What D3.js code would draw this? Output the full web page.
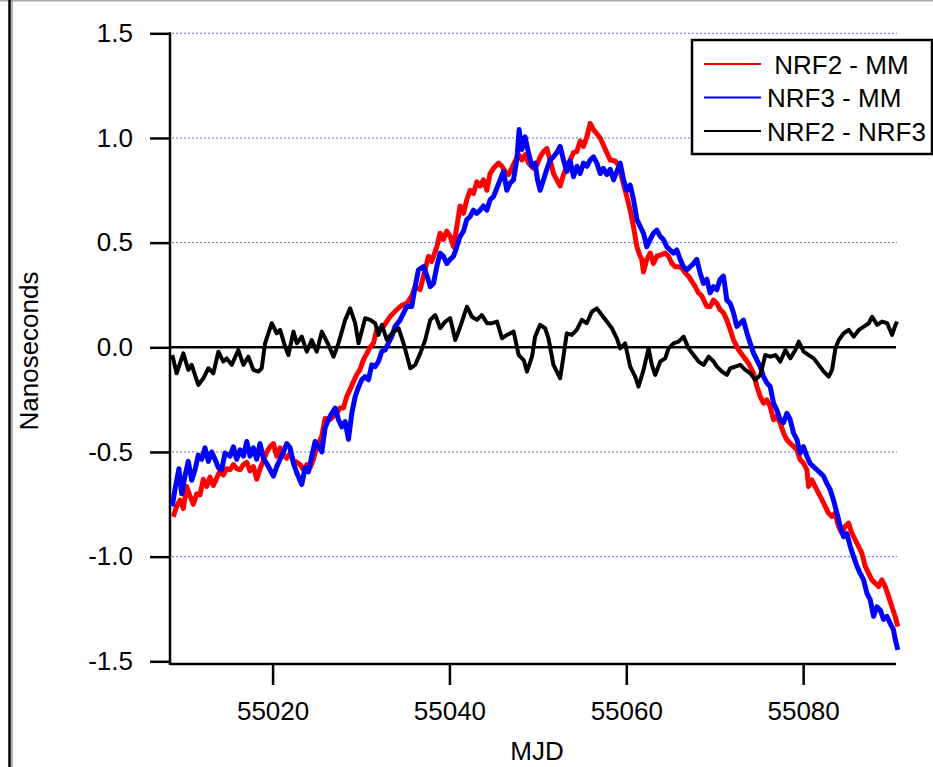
<!DOCTYPE html>
<html>
<head>
<meta charset="utf-8">
<script src="https://cdn.jsdelivr.net/npm/d3@7"></script>
<style>
  body { margin: 0; background: #fff; }
  text { font-family: "Liberation Sans", Arial, sans-serif; }
</style>
</head>
<body>
<div id="chart"></div>
<script>
// data: [MJD - 55000, nanoseconds]
const mjdBase = 55000;

const nrf2MM = [
  [8.77,-0.81],[9.15,-0.76],[9.53,-0.73],[9.91,-0.77],[10.28,-0.665],[10.66,-0.71],[11.04,-0.75],[11.42,-0.70],
  [11.79,-0.705],[12.17,-0.63],[12.55,-0.665],[12.92,-0.62],[13.30,-0.66],[13.68,-0.625],[14.06,-0.59],[14.43,-0.61],
  [14.81,-0.58],[15.19,-0.585],[15.57,-0.56],[15.94,-0.58],[16.32,-0.585],[16.70,-0.56],[17.08,-0.55],[17.45,-0.59],
  [17.83,-0.57],[18.21,-0.63],[18.58,-0.58],[18.96,-0.54],[19.34,-0.50],[19.72,-0.475],[20.09,-0.46],[20.47,-0.52],
  [20.85,-0.48],[21.23,-0.515],[21.60,-0.53],[21.98,-0.505],[22.36,-0.54],[22.74,-0.55],[23.11,-0.56],[23.49,-0.585],
  [23.87,-0.56],[24.25,-0.575],[24.62,-0.535],[25.00,-0.475],[25.18,-0.46],[25.56,-0.425],[25.94,-0.34],[26.50,-0.345],
  [26.88,-0.33],[27.26,-0.315],[27.63,-0.29],[28.01,-0.29],[28.39,-0.235],[28.77,-0.20],[29.14,-0.165],[29.52,-0.13],
  [29.90,-0.105],[30.27,-0.06],[30.65,-0.03],[31.03,0.0],[31.41,0.02],[31.78,0.084],[32.54,0.10],[33.29,0.147],
  [34.05,0.18],[34.61,0.20],[35.18,0.21],[35.74,0.245],[36.12,0.29],[36.68,0.275],[37.25,0.37],[37.63,0.435],
  [38.00,0.41],[38.57,0.48],[38.95,0.545],[39.32,0.515],[39.70,0.555],[40.08,0.53],[40.46,0.48],[40.83,0.575],
  [41.21,0.675],[41.59,0.64],[41.96,0.705],[42.34,0.75],[42.72,0.735],[43.09,0.79],[43.47,0.77],[43.85,0.80],
  [44.23,0.75],[44.60,0.83],[44.98,0.855],[45.55,0.88],[45.92,0.865],[46.30,0.84],[46.68,0.825],[47.05,0.855],
  [47.43,0.89],[47.81,0.92],[48.19,0.895],[48.56,0.92],[48.94,0.88],[49.51,0.855],[49.88,0.87],[50.26,0.91],
  [50.64,0.935],[51.01,0.95],[51.39,0.895],[51.77,0.83],[52.14,0.80],[52.52,0.77],[52.90,0.825],[53.28,0.865],
  [53.65,0.895],[54.03,0.93],[54.41,0.935],[54.78,0.985],[55.16,0.96],[55.54,1.005],[55.92,1.07],[56.29,1.04],
  [56.67,1.02],[57.05,1.0],[57.42,0.965],[57.80,0.93],[58.18,0.895],[58.74,0.89],[59.12,0.87],[59.50,0.81],
  [60.06,0.72],[60.44,0.655],[60.82,0.575],[61.20,0.48],[61.57,0.435],[61.75,0.42],[61.94,0.36],[62.32,0.42],
  [62.70,0.45],[63.07,0.40],[63.45,0.435],[63.83,0.44],[64.39,0.45],[64.77,0.435],[65.15,0.40],[65.52,0.385],
  [65.90,0.385],[66.28,0.38],[66.66,0.355],[67.03,0.34],[67.41,0.315],[67.79,0.29],[68.16,0.26],[68.54,0.245],
  [69.11,0.195],[69.48,0.195],[69.86,0.225],[70.24,0.21],[70.61,0.18],[70.99,0.165],[71.37,0.13],[71.75,0.085],
  [72.12,0.036],[72.69,-0.012],[73.25,-0.044],[73.82,-0.076],[74.39,-0.124],[74.76,-0.187],[75.14,-0.235],[75.52,-0.267],
  [75.89,-0.251],[76.27,-0.283],[76.65,-0.346],[77.02,-0.33],[77.40,-0.362],[77.78,-0.41],[78.16,-0.442],[78.53,-0.458],
  [78.91,-0.474],[79.29,-0.49],[79.66,-0.537],[80.04,-0.553],[80.42,-0.585],[80.61,-0.665],[80.98,-0.633],[81.36,-0.665],
  [81.74,-0.697],[82.12,-0.728],[82.49,-0.76],[82.87,-0.792],[83.25,-0.808],[83.62,-0.792],[84.00,-0.856],[84.38,-0.888],
  [84.75,-0.856],[85.13,-0.84],[85.51,-0.888],[85.89,-0.92],[86.26,-0.951],[86.64,-0.983],[87.02,-1.047],[87.39,-1.079],
  [87.77,-1.111],[88.15,-1.127],[88.53,-1.143],[88.90,-1.111],[89.28,-1.143],[89.66,-1.19],[90.03,-1.238],[90.41,-1.286],
  [90.71,-1.334]
];

const nrf3MM = [
  [8.66,-0.76],[8.96,-0.68],[9.41,-0.58],[9.72,-0.70],[10.09,-0.615],[10.47,-0.545],[10.85,-0.635],[11.23,-0.585],
  [11.60,-0.515],[11.98,-0.535],[12.36,-0.48],[12.74,-0.545],[13.11,-0.50],[13.49,-0.535],[13.87,-0.575],[14.25,-0.585],
  [14.62,-0.505],[15.19,-0.52],[15.57,-0.475],[15.94,-0.535],[16.32,-0.49],[16.70,-0.52],[17.08,-0.45],[17.45,-0.52],
  [17.83,-0.48],[18.21,-0.535],[18.58,-0.46],[18.96,-0.53],[19.34,-0.555],[19.72,-0.585],[20.09,-0.615],[20.47,-0.57],
  [20.85,-0.535],[21.23,-0.50],[21.60,-0.46],[21.98,-0.48],[22.36,-0.555],[22.74,-0.60],[23.30,-0.655],[23.68,-0.575],
  [24.06,-0.595],[24.43,-0.52],[24.81,-0.45],[25.19,-0.475],[25.57,-0.50],[25.94,-0.385],[26.32,-0.345],[26.70,-0.315],
  [27.08,-0.29],[27.45,-0.345],[27.83,-0.38],[28.21,-0.355],[28.58,-0.44],[28.96,-0.315],[29.34,-0.235],[29.72,-0.19],
  [30.09,-0.155],[30.46,-0.14],[30.84,-0.155],[31.22,-0.084],[31.59,-0.092],[31.97,-0.068],[32.35,-0.02],[32.73,-0.012],
  [33.10,0.02],[33.48,0.052],[33.86,0.10],[34.42,0.13],[35.18,0.195],[35.74,0.195],[36.12,0.29],[36.50,0.37],
  [37.06,0.385],[37.44,0.345],[37.82,0.29],[38.19,0.305],[38.57,0.385],[38.95,0.45],[39.32,0.435],[39.70,0.40],
  [40.08,0.42],[40.46,0.435],[40.83,0.48],[41.21,0.53],[41.59,0.555],[41.96,0.61],[42.34,0.625],[42.72,0.655],
  [43.09,0.64],[43.47,0.655],[43.85,0.675],[44.23,0.655],[44.60,0.705],[44.98,0.72],[45.36,0.76],[45.73,0.80],
  [46.11,0.84],[46.49,0.75],[46.87,0.785],[47.24,0.80],[47.62,0.895],[47.88,1.04],[48.19,0.945],[48.56,1.005],
  [48.94,0.93],[49.32,0.865],[49.69,0.88],[49.96,0.80],[50.26,0.75],[50.64,0.80],[51.01,0.85],[51.39,0.895],
  [51.77,0.91],[52.14,0.93],[52.52,0.96],[52.90,0.895],[53.28,0.84],[53.65,0.89],[54.03,0.815],[54.41,0.865],
  [54.78,0.83],[55.16,0.88],[55.54,0.865],[55.92,0.895],[56.29,0.91],[56.67,0.88],[57.05,0.83],[57.42,0.855],
  [57.80,0.825],[58.18,0.85],[58.56,0.80],[58.93,0.84],[59.31,0.88],[59.69,0.80],[60.06,0.75],[60.44,0.775],
  [60.82,0.705],[61.20,0.61],[61.94,0.545],[62.32,0.48],[62.70,0.515],[63.07,0.545],[63.45,0.56],[63.83,0.53],
  [64.20,0.515],[64.58,0.48],[64.96,0.465],[65.34,0.45],[65.71,0.465],[66.09,0.42],[66.47,0.385],[66.84,0.37],
  [67.22,0.385],[67.60,0.40],[67.97,0.42],[68.35,0.355],[68.73,0.305],[69.11,0.325],[69.48,0.26],[69.86,0.29],
  [70.24,0.275],[70.61,0.325],[70.99,0.34],[71.37,0.225],[71.75,0.21],[72.12,0.165],[72.50,0.10],[72.88,0.115],
  [73.25,0.13],[73.63,0.07],[74.01,0.02],[74.39,-0.028],[74.76,-0.06],[75.14,-0.092],[75.52,-0.14],[75.89,-0.17],
  [76.27,-0.187],[76.65,-0.267],[77.02,-0.30],[77.40,-0.345],[77.78,-0.36],[78.16,-0.315],[78.53,-0.345],[78.91,-0.41],
  [79.29,-0.44],[79.66,-0.505],[80.04,-0.475],[80.42,-0.52],[80.79,-0.555],[81.17,-0.57],[81.55,-0.585],[81.93,-0.60],
  [82.30,-0.615],[82.68,-0.65],[83.06,-0.68],[83.43,-0.73],[83.81,-0.79],[84.19,-0.855],[84.57,-0.905],[84.94,-0.89],
  [85.32,-0.95],[85.70,-1.0],[86.08,-1.045],[86.45,-1.08],[86.83,-1.11],[87.21,-1.175],[87.58,-1.205],[87.96,-1.285],
  [88.34,-1.24],[88.72,-1.255],[89.09,-1.30],[89.47,-1.285],[89.85,-1.32],[90.22,-1.35],[90.41,-1.395],[90.71,-1.445]
];

const nrf2NRF3 = [
  [8.66,-0.037],[9.15,-0.124],[9.91,-0.029],[10.47,-0.108],[10.85,-0.084],[11.60,-0.18],[12.17,-0.148],[12.74,-0.10],
  [13.30,-0.124],[13.87,-0.021],[14.43,-0.068],[14.81,-0.053],[15.38,-0.084],[16.13,-0.013],[16.70,-0.084],[17.26,-0.045],
  [17.83,-0.108],[18.40,-0.116],[18.77,-0.10],[19.15,0.019],[19.91,0.115],[20.47,0.067],[20.85,0.083],[21.42,0.003],
  [21.79,-0.037],[22.36,0.075],[22.74,0.019],[23.30,0.051],[23.87,-0.021],[24.43,0.035],[25.00,-0.021],[25.57,0.075],
  [26.32,0.011],[26.89,-0.045],[27.45,0.019],[28.21,0.131],[28.77,0.186],[29.34,0.115],[29.72,0.019],[30.47,0.139],
  [31.04,0.131],[31.60,0.115],[31.98,0.059],[32.36,0.107],[32.92,0.035],[33.49,0.067],[34.25,0.091],[34.81,0.019],
  [35.57,-0.10],[36.13,-0.084],[36.70,-0.029],[37.26,0.035],[37.83,0.131],[38.40,0.154],[38.96,0.091],[39.53,0.123],
  [40.09,0.139],[40.66,0.035],[41.23,0.099],[41.98,0.194],[42.55,0.146],[43.11,0.131],[43.68,0.154],[44.25,0.115],
  [44.81,0.115],[45.38,0.123],[45.94,0.043],[46.51,0.059],[47.26,0.075],[47.83,-0.037],[48.40,-0.061],[48.77,-0.116],
  [49.34,-0.045],[49.69,0.051],[50.25,0.107],[50.82,0.091],[51.20,0.043],[51.76,-0.084],[52.52,-0.148],[52.89,-0.045],
  [53.27,0.067],[53.84,0.059],[54.40,0.083],[54.97,0.131],[55.53,0.115],[56.10,0.17],[56.67,0.186],[57.23,0.154],
  [57.80,0.123],[58.37,0.091],[58.93,0.043],[59.31,-0.005],[59.87,0.019],[60.44,-0.092],[61.01,-0.14],[61.38,-0.188],
  [61.95,-0.108],[62.52,-0.005],[62.89,-0.084],[63.27,-0.132],[63.84,-0.068],[64.40,-0.053],[64.78,-0.005],[65.35,0.019],
  [65.91,0.027],[66.48,0.051],[67.04,-0.005],[67.61,-0.037],[68.18,-0.068],[68.74,-0.084],[69.31,-0.045],[69.88,-0.068],
  [70.25,-0.092],[70.82,-0.116],[71.38,-0.132],[71.76,-0.10],[72.33,-0.092],[72.89,-0.084],[73.46,-0.108],[74.03,-0.124],
  [74.59,-0.156],[75.16,-0.132],[75.72,-0.037],[76.29,-0.045],[76.86,-0.037],[77.42,-0.068],[77.99,-0.013],[78.55,-0.053],
  [79.12,-0.013],[79.50,0.027],[80.06,-0.021],[80.63,-0.037],[81.20,-0.053],[81.76,-0.084],[82.33,-0.116],[82.89,-0.14],
  [83.27,-0.108],[83.65,-0.005],[84.03,0.035],[84.59,0.067],[85.16,0.083],[85.72,0.051],[86.29,0.083],[86.86,0.099],
  [87.42,0.115],[87.80,0.146],[88.37,0.107],[88.93,0.123],[89.50,0.115],[90.06,0.059],[90.44,0.107],[90.63,0.123]
];

const yTicks = [-1.5, -1.0, -0.5, 0.0, 0.5, 1.0, 1.5];
const xTicks = [55020, 55040, 55060, 55080];
const gridValues = [-1.0, -0.5, 0.5, 1.0, 1.5];

const series = [
  {name: " NRF2 - MM", values: nrf2MM, color: "#ff0000", width: 5},
  {name: "NRF3 - MM", values: nrf3MM, color: "#0000ff", width: 5},
  {name: "NRF2 - NRF3", values: nrf2NRF3, color: "#000000", width: 4}
];

// page size and plot box
const width = 933, height = 767;
const plot = {left: 170, right: 896, top: 33.3, bottom: 661.3, axisY: 664};

const svg = d3.select("#chart")
  .append("svg")
  .attr("width", width)
  .attr("height", height);

// frame edges
svg.append("line")
  .attr("x1", 0).attr("x2", width)
  .attr("y1", 0.75).attr("y2", 0.75)
  .attr("stroke", "#aaaaaa").attr("stroke-width", 1.5);
svg.append("line")
  .attr("x1", 9.5).attr("x2", 9.5)
  .attr("y1", 0).attr("y2", height)
  .attr("stroke", "#000").attr("stroke-width", 2.5);
svg.append("line")
  .attr("x1", 12).attr("x2", 12)
  .attr("y1", 0).attr("y2", height)
  .attr("stroke", "#999").attr("stroke-width", 1.5);

// scales
const x = d3.scaleLinear()
  .domain([55008.4, 55090.5])
  .range([plot.left, plot.right]);

const y = d3.scaleLinear()
  .domain([-1.5, 1.5])
  .range([plot.bottom, plot.top]);

// dotted grid
svg.append("g")
  .selectAll("line")
  .data(gridValues)
  .join("line")
  .attr("x1", plot.left + 2)
  .attr("x2", plot.right + 1)
  .attr("y1", d => y(d))
  .attr("y2", d => y(d))
  .attr("stroke", "#6b6bff")
  .attr("stroke-width", 1)
  .attr("stroke-dasharray", "2,2");

// zero line
svg.append("line")
  .attr("x1", plot.left)
  .attr("x2", plot.right)
  .attr("y1", y(0))
  .attr("y2", y(0))
  .attr("stroke", "#000")
  .attr("stroke-width", 2.5);

// y axis
const yAxis = svg.append("g")
  .attr("transform", "translate(" + plot.left + ",0)")
  .call(d3.axisLeft(y).tickValues(yTicks).tickFormat(d3.format(".1f"))
    .tickSize(20).tickSizeOuter(0).tickPadding(17));
yAxis.select(".domain").remove();
yAxis.selectAll(".tick line").attr("stroke-width", 2.5);
yAxis.selectAll("text")
  .style("font-size", "26px")
  .attr("fill", "#000")
  .text(d => d3.format(".1f")(d).replace("−", "-"));

// x axis
const xAxis = svg.append("g")
  .attr("transform", "translate(0," + plot.axisY + ")")
  .call(d3.axisBottom(x).tickValues(xTicks).tickFormat(d3.format("d"))
    .tickSize(21).tickSizeOuter(0).tickPadding(17));
xAxis.select(".domain").remove();
xAxis.selectAll(".tick line").attr("stroke-width", 2.5);
xAxis.selectAll("text")
  .style("font-size", "26px")
  .attr("fill", "#000");

// axis lines
svg.append("line")
  .attr("x1", plot.left).attr("x2", plot.left)
  .attr("y1", plot.top - 1).attr("y2", plot.axisY + 1)
  .attr("stroke", "#000").attr("stroke-width", 2.5);
svg.append("line")
  .attr("x1", plot.left).attr("x2", plot.right)
  .attr("y1", plot.axisY).attr("y2", plot.axisY)
  .attr("stroke", "#000").attr("stroke-width", 2.5);

// traces
const line = d3.line()
  .x(d => x(mjdBase + d[0]))
  .y(d => y(d[1]));

svg.append("g")
  .selectAll("path")
  .data(series)
  .join("path")
  .attr("d", d => line(d.values))
  .attr("fill", "none")
  .attr("stroke", d => d.color)
  .attr("stroke-width", d => d.width)
  .attr("stroke-linejoin", "round");

// axis titles
svg.append("text")
  .attr("transform", "translate(38,351) rotate(-90)")
  .attr("text-anchor", "middle")
  .style("font-size", "26px")
  .text("Nanoseconds");

svg.append("text")
  .attr("x", 537)
  .attr("y", 760)
  .attr("text-anchor", "middle")
  .style("font-size", "26px")
  .text("MJD");

// legend
const legend = svg.append("g");
legend.append("rect")
  .attr("x", 692).attr("y", 40)
  .attr("width", 240).attr("height", 114)
  .attr("fill", "#fff")
  .attr("stroke", "#000")
  .attr("stroke-width", 2.5);

const rows = legend.selectAll("g.row")
  .data(series)
  .join("g")
  .attr("class", "row")
  .attr("transform", (d, i) => "translate(0," + (64 + i * 33.5) + ")");
rows.append("line")
  .attr("x1", 704).attr("x2", 761)
  .attr("stroke", d => d.color)
  .attr("stroke-width", 2);
rows.append("text")
  .attr("x", 767)
  .attr("y", 9.5)
  .style("font-size", "26px")
  .style("white-space", "pre")
  .attr("xml:space", "preserve")
  .text(d => d.name);
</script>
</body>
</html>
